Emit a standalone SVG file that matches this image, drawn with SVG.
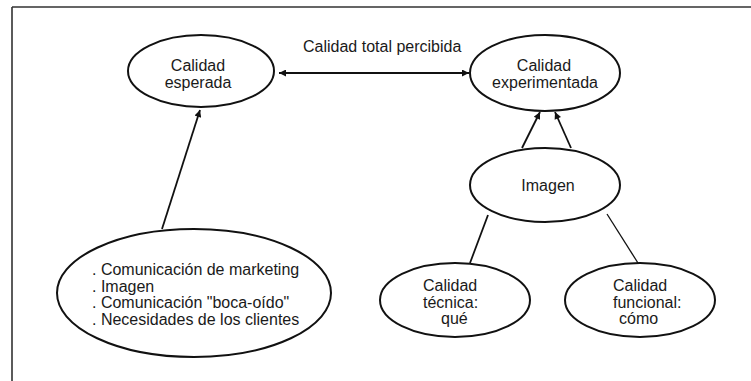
<svg xmlns="http://www.w3.org/2000/svg" width="751" height="381" viewBox="0 0 751 381">
  <style>
    .node ellipse { fill: #ffffff; stroke: #111111; stroke-width: 2; }
    .lbl { font-family: "Liberation Sans", Arial, sans-serif; font-size: 16px; fill: #1a1a1a; }
    .mid { text-anchor: middle; }
    .edge { stroke: #111111; stroke-width: 1.8; fill: none; }
    .thin { stroke-width: 1.3; }
  </style>
  <defs>
    <marker id="arrow" viewBox="0 0 10 10" refX="10" refY="5" markerWidth="9" markerHeight="7" markerUnits="userSpaceOnUse" orient="auto-start-reverse">
      <path d="M0,0 L10,5 L0,10 z" fill="#111111"/>
    </marker>
  </defs>

  <rect width="751" height="381" fill="#ffffff"/>

  <!-- frame: top and left rules only -->
  <path d="M12,7 H751 M12,7 V381" stroke="#333333" stroke-width="1.6" fill="none"/>

  <g id="connectors">
    <line class="edge" x1="279" y1="73" x2="469" y2="73" marker-start="url(#arrow)" marker-end="url(#arrow)"/>
    <line class="edge" x1="162" y1="229" x2="200" y2="110" marker-end="url(#arrow)"/>
    <line class="edge" x1="522" y1="148" x2="540" y2="112" marker-end="url(#arrow)"/>
    <line class="edge" x1="571" y1="148" x2="555" y2="112" marker-end="url(#arrow)"/>
    <line class="edge" x1="488" y1="215" x2="470" y2="263"/>
    <line class="edge thin" x1="607" y1="214" x2="638" y2="263"/>
    <text class="lbl" x="303" y="52">Calidad total percibida</text>
  </g>

  <g id="calidad-esperada" class="node">
    <ellipse cx="201" cy="71" rx="73" ry="36"/>
    <text class="lbl mid" x="198" y="71">Calidad</text>
    <text class="lbl mid" x="198" y="88">esperada</text>
  </g>

  <g id="calidad-experimentada" class="node">
    <ellipse cx="545" cy="73" rx="75" ry="38"/>
    <text class="lbl mid" x="544" y="71">Calidad</text>
    <text class="lbl mid" x="545" y="88">experimentada</text>
  </g>

  <g id="imagen" class="node">
    <ellipse cx="545" cy="185" rx="75" ry="37"/>
    <text class="lbl mid" x="548" y="191">Imagen</text>
  </g>

  <g id="calidad-tecnica" class="node">
    <ellipse cx="455" cy="300" rx="75" ry="37"/>
    <text class="lbl" x="423" y="291">Calidad</text>
    <text class="lbl" x="423" y="308">técnica:</text>
    <text class="lbl" x="441" y="324">qué</text>
  </g>

  <g id="calidad-funcional" class="node">
    <ellipse cx="640" cy="300" rx="75" ry="37"/>
    <text class="lbl" x="613" y="291">Calidad</text>
    <text class="lbl" x="613" y="308">funcional:</text>
    <text class="lbl" x="619" y="324">cómo</text>
  </g>

  <g id="factores" class="node">
    <ellipse cx="194" cy="293" rx="137" ry="64"/>
    <text class="lbl" x="92" y="275">. Comunicación de marketing</text>
    <text class="lbl" x="92" y="292">. Imagen</text>
    <text class="lbl" x="92" y="308">. Comunicación "boca-oído"</text>
    <text class="lbl" x="92" y="325">. Necesidades de los clientes</text>
  </g>
</svg>
